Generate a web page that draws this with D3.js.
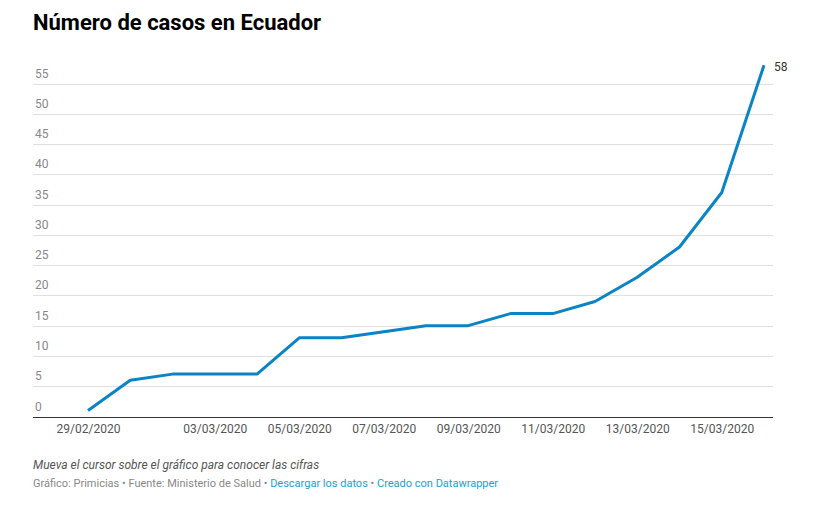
<!DOCTYPE html>
<html><head><meta charset="utf-8">
<script src="https://cdn.jsdelivr.net/npm/d3@7"></script>
<style>
body{margin:0;background:#fff;font-family:Roboto,"Noto Sans",sans-serif;}
</style></head><body>
<svg id="c" width="827" height="515"></svg>
<script>
const dates = ["2020-02-29","2020-03-01","2020-03-02","2020-03-03","2020-03-04","2020-03-05","2020-03-06","2020-03-07","2020-03-08","2020-03-09","2020-03-10","2020-03-11","2020-03-12","2020-03-13","2020-03-14","2020-03-15","2020-03-16"];
const cases = [1,6,7,7,7,13,13,14,15,15,17,17,19,23,28,37,58];
const xTickDates = ["2020-02-29","2020-03-03","2020-03-05","2020-03-07","2020-03-09","2020-03-11","2020-03-13","2020-03-15"];
const yTicks = [0,5,10,15,20,25,30,35,40,45,50,55];

const parse = d3.timeParse("%Y-%m-%d");
const fmt = d3.timeFormat("%d/%m/%Y");
const data = dates.map((d,i)=>({date:parse(d), v:cases[i]}));

const svg = d3.select("#c");
const left = 33, right = 773;
const x = d3.scaleTime().domain([parse(dates[0]), parse(dates[dates.length-1])]).range([88,764]);
const y = d3.scaleLinear().domain([0,55]).range([416.5,83.5]);

svg.append("text").attr("x",33).attr("y",30).attr("font-size",22).attr("font-weight",700)
  .attr("fill","#000").text("Número de casos en Ecuador");

// grid
const g = svg.append("g");
g.selectAll("line.grid").data(yTicks.filter(t=>t>0)).join("line")
  .attr("x1",left).attr("x2",right)
  .attr("y1",d=>Math.round(y(d))+0.5).attr("y2",d=>Math.round(y(d))+0.5)
  .attr("stroke","#e0e0e0").attr("stroke-width",1);
g.selectAll("text.yl").data(yTicks).join("text")
  .attr("x",35).attr("y",d=>y(d)-6).attr("font-size",12).attr("fill","#888")
  .text(d=>d);

// baseline
svg.append("line").attr("x1",left).attr("x2",right).attr("y1",417.5).attr("y2",417.5)
  .attr("stroke","#333").attr("stroke-width",1);

// x ticks
const xAxis = d3.axisBottom(x).tickValues(xTickDates.map(parse)).tickFormat(fmt).tickSize(0).tickPadding(0);
const ax = svg.append("g").attr("transform","translate(0,417)").call(xAxis);
ax.select(".domain").remove();
ax.selectAll("text").attr("font-family","Roboto").attr("font-size",12).attr("fill","#555").attr("dy",null).attr("y",16);

// line
const line = d3.line().x(d=>x(d.date)).y(d=>y(d.v));
svg.append("path").datum(data).attr("d",line).attr("fill","none")
  .attr("stroke","#0a84c4").attr("stroke-width",3).attr("stroke-linejoin","round");

const last = data[data.length-1];
svg.append("text").attr("x",x(last.date)+10).attr("y",y(last.v)+6).attr("font-size",12).attr("fill","#333").text(last.v);

// footer
svg.append("text").attr("x",33).attr("y",469).attr("font-size",12).attr("font-style","italic").attr("fill","#555")
  .text("Mueva el cursor sobre el gráfico para conocer las cifras");
const src = svg.append("text").attr("x",33).attr("y",487).attr("font-size",11);
src.append("tspan").attr("fill","#888").text("Gráfico: Primicias • Fuente: Ministerio de Salud • ");
src.append("tspan").attr("fill","#1a9fd5").text("Descargar los datos");
src.append("tspan").attr("fill","#888").text(" • ");
src.append("tspan").attr("fill","#1a9fd5").text("Creado con Datawrapper");
</script></body></html>
